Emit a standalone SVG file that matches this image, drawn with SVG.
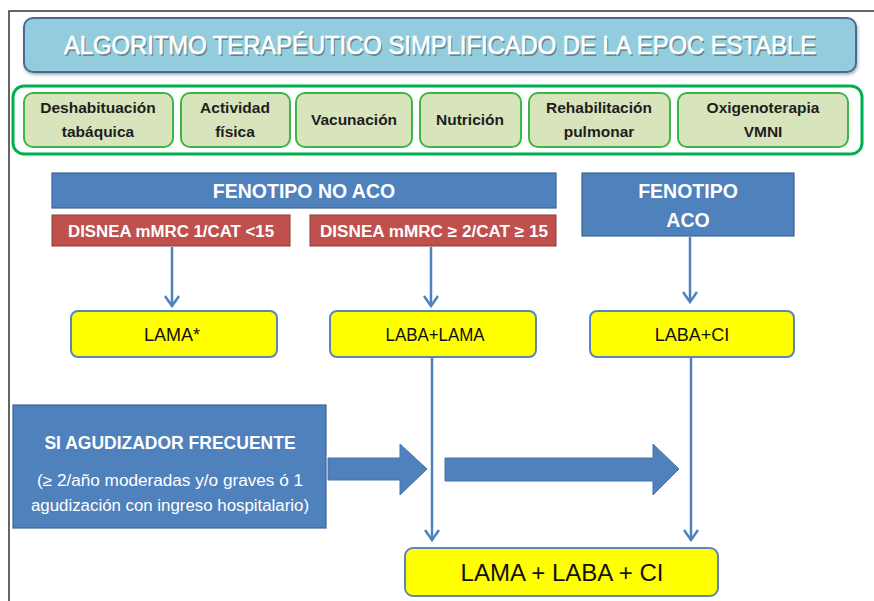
<svg xmlns="http://www.w3.org/2000/svg" width="874" height="601" viewBox="0 0 874 601">
<defs>
<style>
text{font-family:"Liberation Sans",Arial,sans-serif;text-anchor:middle}
.g{fill:#D8E4BC;stroke:#3DB54A;stroke-width:2}
.gt{font-size:15.5px;font-weight:bold;fill:#1E1E1E}
.blue{fill:#4F81BD;stroke:#3B6596;stroke-width:1.2}
.red{fill:#C0504D;stroke:#8E3A38;stroke-width:1}
.wt{fill:#FFFFFF;font-weight:bold}
.yel{fill:#FFFF00;stroke:#5A85BF;stroke-width:2}
.yt{fill:#111111;font-size:18px}
.con{stroke:#4F81BD;stroke-width:2.5;fill:none}
.blk{fill:#4F81BD;stroke:#4575B0;stroke-width:1}
.tt{font-size:25px}
</style>
<marker id="v" viewBox="0 0 14 16" refX="12" refY="8" markerWidth="14" markerHeight="16" markerUnits="userSpaceOnUse" orient="auto">
<path d="M2,1 L12,8 L2,15" fill="none" stroke="#4F81BD" stroke-width="2.5"/>
</marker>
<filter id="bs" x="-5%" y="-10%" width="110%" height="130%">
<feDropShadow dx="1" dy="2" stdDeviation="1.5" flood-color="#000" flood-opacity="0.3"/>
</filter>
</defs>
<rect width="874" height="601" fill="#FFFFFF"/>
<path d="M9,601 L9,11 L874,11" fill="none" stroke="#333" stroke-width="1.5"/>

<g id="title">
<rect x="24" y="18" width="832" height="54" rx="9" fill="#93CDDD" stroke="#4A6B94" stroke-width="2" filter="url(#bs)"/>
<text class="tt" x="441.5" y="55.5" fill="#000000" fill-opacity="0.35" textLength="752" lengthAdjust="spacingAndGlyphs">ALGORITMO TERAPÉUTICO SIMPLIFICADO DE LA EPOC ESTABLE</text>
<text class="tt" x="440" y="54" fill="#FFFFFF" stroke="#FFFFFF" stroke-width="0.6" textLength="752" lengthAdjust="spacingAndGlyphs">ALGORITMO TERAPÉUTICO SIMPLIFICADO DE LA EPOC ESTABLE</text>
</g>

<g id="medidas">
<rect x="13" y="86" width="849" height="68" rx="11" fill="#FFFFFF" stroke="#00B050" stroke-width="3"/>
</g>
<g id="deshabituacion">
<rect class="g" x="24" y="93" width="149" height="54" rx="9"/>
<text class="gt" x="98" y="113">Deshabituación</text>
<text class="gt" x="98" y="137">tabáquica</text>
</g>
<g id="actividad">
<rect class="g" x="181" y="93" width="109" height="54" rx="9"/>
<text class="gt" x="235" y="113">Actividad</text>
<text class="gt" x="235" y="137">física</text>
</g>
<g id="vacunacion">
<rect class="g" x="296" y="93" width="116" height="54" rx="9"/>
<text class="gt" x="354" y="125">Vacunación</text>
</g>
<g id="nutricion">
<rect class="g" x="420" y="93" width="101" height="54" rx="9"/>
<text class="gt" x="470" y="125">Nutrición</text>
</g>
<g id="rehabilitacion">
<rect class="g" x="529" y="93" width="141" height="54" rx="9"/>
<text class="gt" x="599" y="113">Rehabilitación</text>
<text class="gt" x="599" y="137">pulmonar</text>
</g>
<g id="oxigenoterapia">
<rect class="g" x="678" y="93" width="170" height="54" rx="9"/>
<text class="gt" x="763" y="113">Oxigenoterapia</text>
<text class="gt" x="763" y="137">VMNI</text>
</g>

<g id="fenotipo-no-aco">
<rect class="blue" x="52" y="173" width="504" height="35"/>
<text class="wt" x="304" y="198" font-size="19.5">FENOTIPO NO ACO</text>
</g>
<g id="disnea-1">
<rect class="red" x="52" y="215" width="238" height="31"/>
<text class="wt" x="171" y="237" font-size="16" textLength="206" lengthAdjust="spacingAndGlyphs">DISNEA mMRC 1/CAT &lt;15</text>
</g>
<g id="disnea-2">
<rect class="red" x="310" y="215" width="246" height="31"/>
<text class="wt" x="434" y="237" font-size="16" textLength="228" lengthAdjust="spacingAndGlyphs">DISNEA mMRC  ≥ 2/CAT ≥ 15</text>
</g>
<g id="fenotipo-aco">
<rect class="blue" x="582" y="173" width="212" height="63"/>
<text class="wt" x="688" y="198" font-size="19.5">FENOTIPO</text>
<text class="wt" x="688" y="227" font-size="19.5">ACO</text>
</g>

<g id="lama">
<rect class="yel" x="71" y="311" width="206" height="46" rx="7"/>
<text class="yt" x="172" y="341">LAMA*</text>
</g>
<g id="laba-lama">
<rect class="yel" x="330" y="311" width="206" height="46" rx="7"/>
<text class="yt" x="435" y="341" textLength="99" lengthAdjust="spacingAndGlyphs">LABA+LAMA</text>
</g>
<g id="laba-ci">
<rect class="yel" x="590" y="311" width="204" height="46" rx="7"/>
<text class="yt" x="692" y="341">LABA+CI</text>
</g>

<g id="agudizador">
<rect class="blue" x="13" y="405" width="313" height="123"/>
<text class="wt" x="170" y="449" font-size="17.5">SI AGUDIZADOR FRECUENTE</text>
<text x="170" y="486" font-size="16" fill="#FFFFFF" textLength="266" lengthAdjust="spacingAndGlyphs">(≥ 2/año moderadas y/o graves ó 1</text>
<text x="170" y="511" font-size="16" fill="#FFFFFF" textLength="278" lengthAdjust="spacingAndGlyphs">agudización con ingreso hospitalario)</text>
</g>

<g id="triple">
<rect class="yel" x="405" y="548" width="313" height="48" rx="8"/>
<text x="562" y="581" font-size="24" fill="#111111">LAMA + LABA + CI</text>
</g>

<g id="connectors">
<line class="con" x1="172" y1="247" x2="172" y2="306" marker-end="url(#v)"/>
<line class="con" x1="431" y1="247" x2="431" y2="306" marker-end="url(#v)"/>
<line class="con" x1="690" y1="237" x2="690" y2="302" marker-end="url(#v)"/>
<line class="con" x1="432" y1="357" x2="432" y2="540" marker-end="url(#v)"/>
<line class="con" x1="691" y1="357" x2="691" y2="540" marker-end="url(#v)"/>
<polygon class="blk" points="328,458 400,458 400,444 427,469 400,495 400,480 328,480"/>
<polygon class="blk" points="445,458 653,458 653,444 679,469 653,495 653,481 445,481"/>
</g>
</svg>
